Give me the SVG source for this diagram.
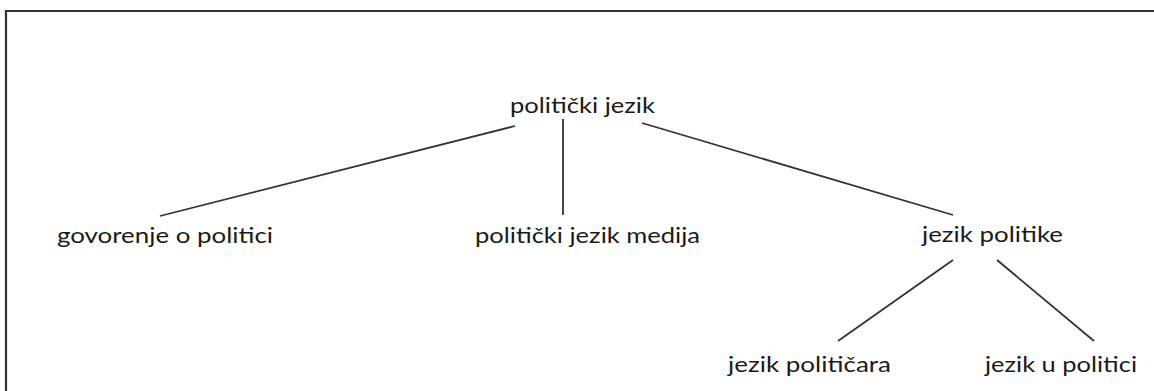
<svg xmlns="http://www.w3.org/2000/svg" width="1154" height="391" viewBox="0 0 1154 391">
<style>
.t{font-family:Lato,"Open Sans","Liberation Sans",sans-serif;font-size:21px;fill:#1a1a1a}
.c line{stroke:#333;stroke-width:1.8}
</style>
<rect x="0" y="0" width="1154" height="391" fill="#fff"/>
<g id="frame"><path d="M6 391V11H1154" fill="none" stroke="#333" stroke-width="2.2"/></g>
<g class="c" id="connectors">
<line x1="515" y1="126" x2="160" y2="216"/>
<line x1="563" y1="119" x2="563" y2="215"/>
<line x1="642" y1="123" x2="953" y2="215"/>
<line x1="953" y1="260" x2="838" y2="341"/>
<line x1="997" y1="260" x2="1094" y2="341"/>
</g>
<g id="n1"><text class="t" x="510" y="113" textLength="145" lengthAdjust="spacingAndGlyphs">politički jezik</text></g>
<g id="n2"><text class="t" x="57" y="243" textLength="216" lengthAdjust="spacingAndGlyphs">govorenje o politici</text></g>
<g id="n3"><text class="t" x="475" y="243" textLength="225" lengthAdjust="spacingAndGlyphs">politički jezik medija</text></g>
<g id="n4"><text class="t" x="922" y="242" textLength="141" lengthAdjust="spacingAndGlyphs">jezik politike</text></g>
<g id="n5"><text class="t" x="728" y="372" textLength="163" lengthAdjust="spacingAndGlyphs">jezik političara</text></g>
<g id="n6"><text class="t" x="985" y="372" textLength="152" lengthAdjust="spacingAndGlyphs">jezik u politici</text></g>
</svg>
